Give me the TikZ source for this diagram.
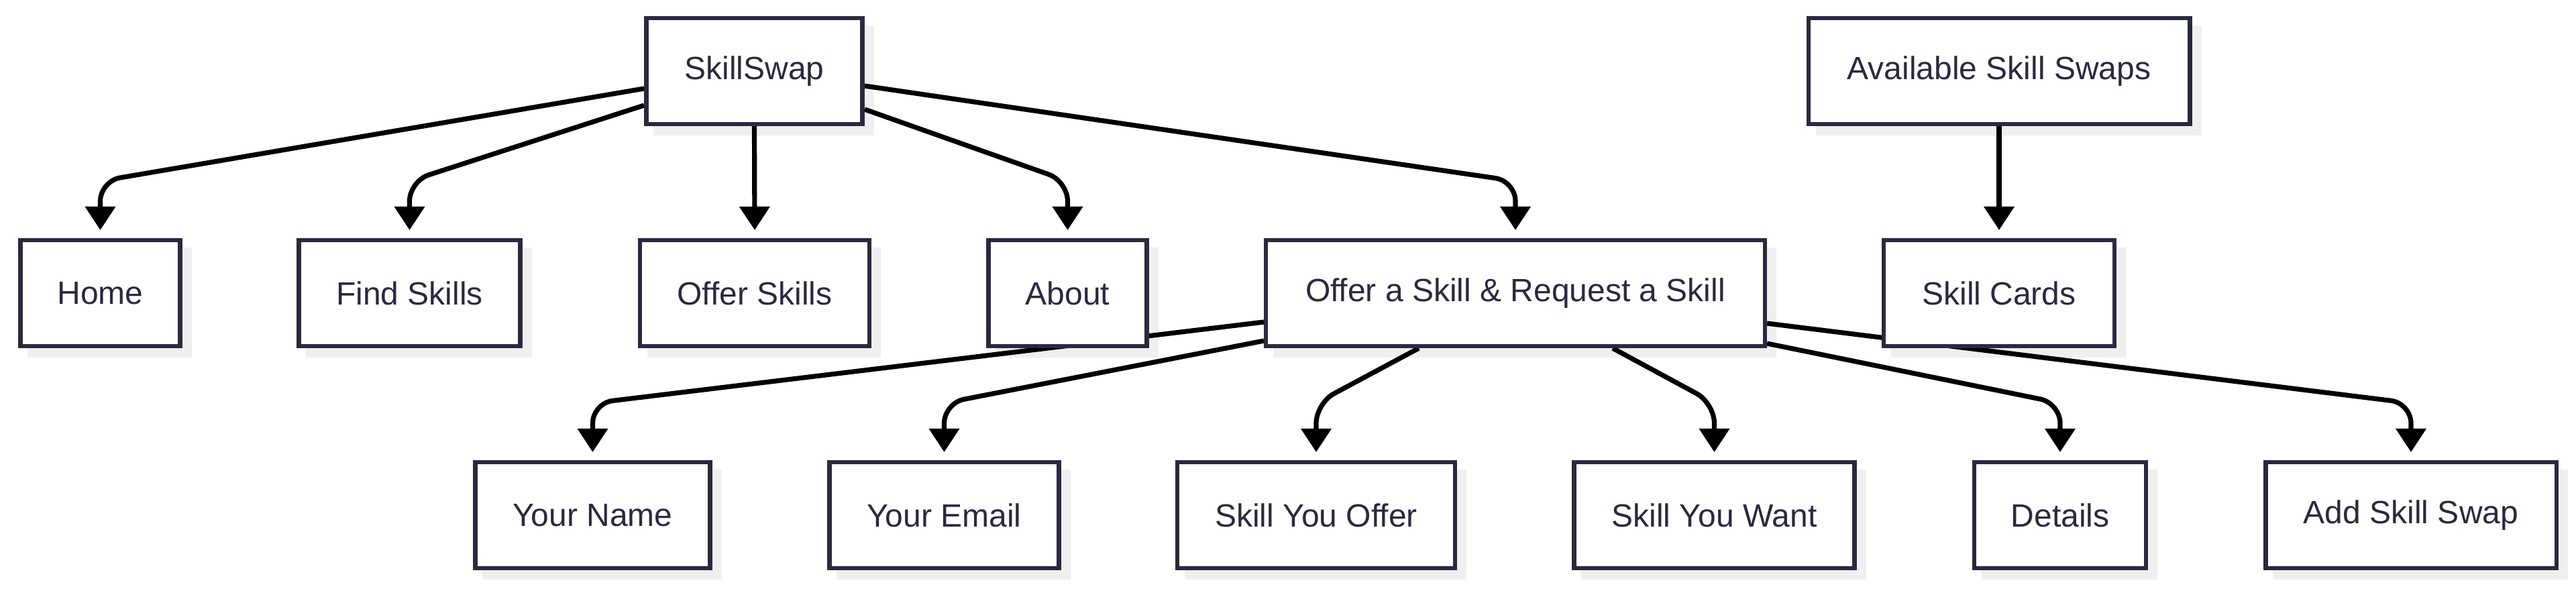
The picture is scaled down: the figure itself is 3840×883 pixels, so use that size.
\documentclass[tikz,border=0pt]{standalone}
\usepackage{fontspec}
\setmainfont{Liberation Sans}
\usetikzlibrary{arrows.meta,calc}
\definecolor{navy}{RGB}{41,41,64}
\definecolor{shadowc}{RGB}{239,239,239}
\pgfdeclarelayer{bg}
\pgfdeclarelayer{edges}
\pgfsetlayers{bg,edges,main}
\tikzset{
  box/.style={draw=navy, line width=1.625pt, fill=white, text=navy,
    minimum height=39.4pt, inner sep=0pt,
    font=\fontsize{12pt}{14pt}\selectfont},
  edge/.style={draw=black, line width=1.8pt, rounded corners=7.5pt,
    -{Triangle[length=8.75pt,width=11pt]}},
  shadowbox/.style={fill=shadowc},
}
\newcommand{\bw}[1]{minimum width=#1*0.25pt-1.625pt}
\begin{document}
\begin{tikzpicture}[x=0.25pt,y=-0.25pt]
\useasboundingbox (0,0) rectangle (3840,883);
% row 1
\node[box,minimum width=80.6pt] (ss) at (1124.5,106) {SkillSwap};
\node[box,minimum width=142.1pt] (av) at (2980,106) {Available Skill Swaps};
% row 2
\node[box,minimum width=59.6pt] (home) at (149.5,437) {Home};
\node[box,minimum width=82.6pt] (find) at (610.5,437) {Find Skills};
\node[box,minimum width=85.4pt] (offs) at (1125,437) {Offer Skills};
\node[box,minimum width=58.9pt] (about) at (1591.5,437) {About};
\node[box,minimum width=185.9pt] (oreq) at (2259,437) {Offer a Skill \& Request a Skill};
\node[box,minimum width=85.9pt] (cards) at (2980,437) {Skill Cards};
% row 3
\node[box,minimum width=87.6pt] (name) at (883.5,768) {Your Name};
\node[box,minimum width=85.6pt] (email) at (1407.5,768) {Your Email};
\node[box,minimum width=103.4pt] (syo) at (1962,768) {Skill You Offer};
\node[box,minimum width=104.6pt] (syw) at (2555.5,768) {Skill You Want};
\node[box,minimum width=63.9pt] (det) at (3071,768) {Details};
\node[box,minimum width=108.4pt] (add) at (3594,768) {Add Skill Swap};
% shadows
\begin{pgfonlayer}{bg}
\foreach \n in {ss,av,home,find,offs,about,oreq,cards,name,email,syo,syw,det,add}{
  \fill[shadowc] ($(\n.south west)+(14,14)$) rectangle ($(\n.north east)+(14,14)$);
}
\end{pgfonlayer}
% edges
\begin{pgfonlayer}{edges}
\draw[edge] ($(ss.west)+(0,26)$) -- ($(home.north)+(0,-85)$) -- ($(home.north)+(0,-12)$);
\draw[edge] ($(ss.west)+(0,51)$) -- ($(find.north)+(0,-85)$) -- ($(find.north)+(0,-12)$);
\draw[edge] (ss.south) -- ($(offs.north)+(0,-12)$);
\draw[edge] ($(ss.east)+(0,57)$) -- ($(about.north)+(0,-85)$) -- ($(about.north)+(0,-12)$);
\draw[edge] ($(ss.east)+(0,22)$) -- ($(oreq.north)+(0,-85)$) -- ($(oreq.north)+(0,-12)$);
\draw[edge] (av.south) -- ($(cards.north)+(0,-12)$);
\draw[edge] ($(oreq.west)+(0,43)$) -- ($(name.north)+(0,-85)$) -- ($(name.north)+(0,-12)$);
\draw[edge] ($(oreq.west)+(0,71)$) -- ($(email.north)+(0,-85)$) -- ($(email.north)+(0,-12)$);
\draw[edge] ($(oreq.south)+(-144,0)$) -- ($(syo.north)+(0,-85)$) -- ($(syo.north)+(0,-12)$);
\draw[edge] ($(oreq.south)+(145,0)$) -- ($(syw.north)+(0,-85)$) -- ($(syw.north)+(0,-12)$);
\draw[edge] ($(oreq.east)+(0,75)$) -- ($(det.north)+(0,-85)$) -- ($(det.north)+(0,-12)$);
\draw[edge] ($(oreq.east)+(0,45)$) -- ($(add.north)+(0,-85)$) -- ($(add.north)+(0,-12)$);
\end{pgfonlayer}
\end{tikzpicture}
\end{document}
